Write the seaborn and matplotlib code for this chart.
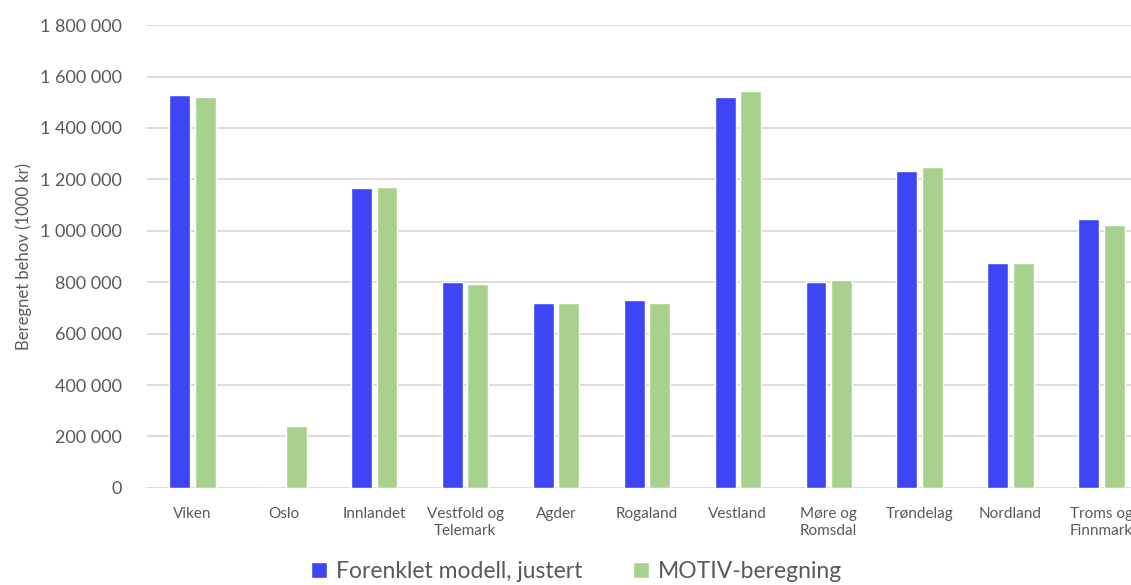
import pandas as pd
import seaborn as sns
import matplotlib.pyplot as plt
from matplotlib.ticker import FuncFormatter, MultipleLocator

regions = ['Viken', 'Oslo', 'Innlandet', 'Vestfold og\nTelemark', 'Agder',
           'Rogaland', 'Vestland', 'Møre og\nRomsdal', 'Trøndelag',
           'Nordland', 'Troms og\nFinnmark']
series = ['Forenklet modell, justert', 'MOTIV-beregning']
forenklet = [1528000, 0, 1166000, 802000, 720000, 731000, 1520000,
             802000, 1232000, 874000, 1046000]
motiv = [1520000, 241000, 1170000, 793000, 720000, 718000, 1544000,
         808000, 1247000, 874000, 1024000]
colors = ['#3D45F5', '#A9D18E']

df = pd.DataFrame({
    'region': regions * 2,
    'serie': [series[0]] * len(regions) + [series[1]] * len(regions),
    'verdi': forenklet + motiv,
})

sns.set_theme(style='white')
plt.rcParams['font.family'] = ['Lato', 'DejaVu Sans']
text_col = '#595959'

fig = plt.figure(figsize=(11.31, 5.85), dpi=100)
ax = fig.add_axes([0.13, 0.166, 0.884, 0.791])

sns.barplot(data=df, x='region', y='verdi', hue='serie', palette=colors,
            saturation=1, width=0.56, gap=0.18, ax=ax, legend=True)

ax.set_ylim(0, 1800000)
ax.set_xlim(-0.5, len(regions) - 0.5)
ax.yaxis.set_major_locator(MultipleLocator(200000))
ax.yaxis.set_major_formatter(
    FuncFormatter(lambda v, p: f'{int(v):,}'.replace(',', ' ')))
ax.grid(axis='y', color='#D9D9D9', linewidth=1.3)
ax.set_axisbelow(True)
for s in ax.spines.values():
    s.set_visible(False)

ax.tick_params(axis='y', labelsize=13, colors=text_col, length=0, pad=18)
ax.tick_params(axis='x', labelsize=11, colors=text_col, length=0, pad=14)
ax.set_xlabel('')
ax.set_ylabel('Beregnet behov (1000 kr)', fontsize=12, color=text_col,
              labelpad=6)

# move legend under the plot, centred on the figure
handles, labels = ax.get_legend_handles_labels()
ax.get_legend().remove()
fig.legend(handles, labels, loc='lower center', bbox_to_anchor=(0.51, -0.03),
           ncol=2, frameon=False, fontsize=16.5, handlelength=0.7,
           handleheight=0.7, handletextpad=0.4, columnspacing=2.2,
           labelcolor=text_col)

fig.savefig('out.png', dpi=100)
